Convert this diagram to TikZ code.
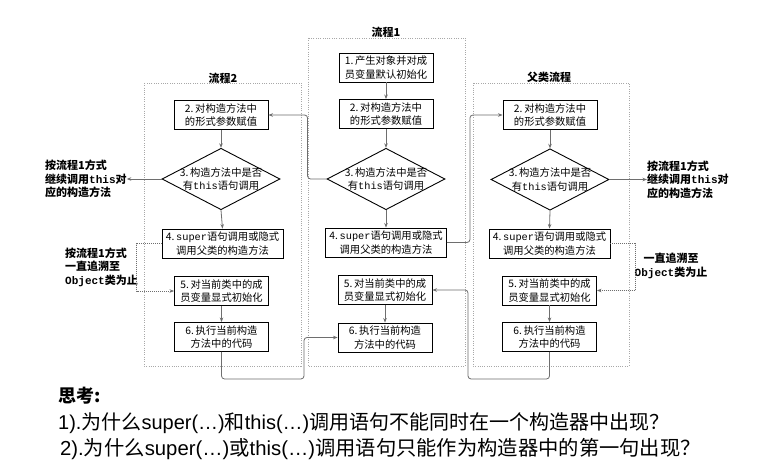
\documentclass[tikz,border=0pt]{standalone}
\usepackage{fontspec}
\setmainfont{Noto Sans CJK SC}
\newfontfamily\latinfont{Liberation Sans}
\newfontfamily\monofont{Liberation Mono}
\usetikzlibrary{shapes.geometric,arrows.meta}

\definecolor{linegray}{HTML}{6E6E6E}
\definecolor{framegray}{HTML}{A8A8A8}

\tikzset{
  stepbox/.style={draw=black, line width=0.9pt, fill=white, minimum width=94pt,
    minimum height=29pt, inner sep=1pt, align=center,
    font=\fontsize{10.3}{13.5}\selectfont},
  widebox/.style={stepbox, minimum width=121pt},
  decide/.style={draw=black, diamond, line width=0.9pt, fill=white, aspect=1.92,
    inner xsep=-1.5pt, inner ysep=-1.5pt, align=center,
    font=\fontsize{10.3}{13.5}\selectfont},
  frame/.style={draw=framegray, line width=0.7pt, dash pattern=on 1pt off 1.3pt},
  conn/.style={draw=linegray, line width=0.8pt, rounded corners=3pt,
    -{Stealth[length=4.5pt,width=3.5pt]}},
  dotconn/.style={conn, rounded corners=0pt, dash pattern=on 1pt off 1pt},
  title/.style={font=\bfseries\fontsize{11}{13}\selectfont},
  side/.style={font=\bfseries\fontsize{11}{13.5}\selectfont, inner sep=0pt},
}

\begin{document}
\begin{tikzpicture}[x=1pt,y=-1pt]
\fill[white] (0,0) rectangle (767,465);
\useasboundingbox (0,0) rectangle (767,465);

% dotted frames of the three flows
\draw[frame] (144,83) rectangle (301,366);
\draw[frame] (308,38) rectangle (465,366);
\draw[frame] (473,83) rectangle (629,366);

\node[title] (t1) at (386,32) {流程1};
\node[title] (t2) at (223,78) {流程2};
\node[title] (t3) at (549,77) {父类流程};

% flow 1 (middle)
\node[stepbox] (b11) at (386,67.5) {1.\,产生对象并对成\\员变量默认初始化};
\node[stepbox] (b12) at (386,114) {2.\,对构造方法中\\的形式参数赋值};
\node[decide]  (d1)  at (386,179) {3.\,构造方法中是否\\有{\monofont this}语句调用};
\node[widebox] (b14) at (386,242.5) {4.{\monofont\,super}语句调用或隐式\\调用父类的构造方法};
\node[stepbox] (b15) at (385,290) {5.\,对当前类中的成\\员变量显式初始化};
\node[stepbox] (b16) at (385,337.5) {6.\,执行当前构造\\方法中的代码};

% flow 2 (left)
\node[stepbox] (b22) at (221,115) {2.\,对构造方法中\\的形式参数赋值};
\node[decide]  (d2)  at (221,179) {3.\,构造方法中是否\\有{\monofont this}语句调用};
\node[widebox] (b24) at (222.5,243.5) {4.{\monofont\,super}语句调用或隐式\\调用父类的构造方法};
\node[stepbox] (b25) at (221.5,291) {5.\,对当前类中的成\\员变量显式初始化};
\node[stepbox] (b26) at (221.5,337) {6.\,执行当前构造\\方法中的代码};

% parent class flow (right)
\node[stepbox] (b32) at (550,115) {2.\,对构造方法中\\的形式参数赋值};
\node[decide]  (d3)  at (550,179.5) {3.\,构造方法中是否\\有{\monofont this}语句调用};
\node[widebox] (b34) at (549.5,243.5) {4.{\monofont\,super}语句调用或隐式\\调用父类的构造方法};
\node[stepbox] (b35) at (549.5,290.5) {5.\,对当前类中的成\\员变量显式初始化};
\node[stepbox] (b36) at (549.5,337) {6.\,执行当前构造\\方法中的代码};

% side notes
\node[side, anchor=west, align=left] (lt) at (45,179)
  {按流程1方式\\继续调用{\monofont\bfseries this}对\\应的构造方法};
\node[side, anchor=west, align=left] (rt) at (647,179.5)
  {按流程1方式\\继续调用{\monofont\bfseries this}对\\应的构造方法};
\node[side, anchor=west, align=left] (lb) at (65,267)
  {按流程1方式\\一直追溯至\\{\monofont\bfseries Object}类为止};
\node[side, align=center] (rb) at (671,266)
  {一直追溯至\\{\monofont\bfseries Object}类为止};

% arrows inside each column
\foreach \a/\b in {b11/b12, b12/d1, d1/b14, b15/b16,
                   b22/d2, d2/b24, b25/b26,
                   b32/d3, d3/b34, b35/b36}
  \draw[conn] (\a.south) -- (\b.north);

% jumps between flows
\draw[conn] (d1.west) -- ++(-19,0) |- (b22.east);
\draw[conn] (b14.east) -- ++(23,0) |- (b32.west);
\draw[conn] (b26.south) -- ++(0,27) -- ++(82.5,0) |- (b16.west);
\draw[conn] (b36.south) -- ++(0,27) -- ++(-81.5,0) |- (b15.east);
\draw[conn] (d2.west) -- (d2.west -| lt.east);
\draw[conn] (d3.east) -- (rt.west |- d3.east);
\draw[dotconn] (b24.west) -- ++(-25,0) |- (b25.west);
\draw[dotconn] (b34.east) -- ++(25,0) |- (b35.east);

% questions below the chart
\node[anchor=west, inner sep=0pt, font=\bfseries\fontsize{18}{20}\selectfont] (think) at (58,396) {思考:};
\node[anchor=west, inner sep=0pt, font=\fontsize{20}{22}\selectfont] (q1) at (58,423)
  {{\latinfont 1).}为什么{\latinfont super(…)}和{\latinfont this(…)}调用语句不能同时在一个构造器中出现？};
\node[anchor=west, inner sep=0pt, font=\fontsize{20.3}{22}\selectfont] (q2) at (60,449)
  {{\latinfont 2).}为什么{\latinfont super(…)}或{\latinfont this(…)}调用语句只能作为构造器中的第一句出现？};
\end{tikzpicture}
\end{document}
